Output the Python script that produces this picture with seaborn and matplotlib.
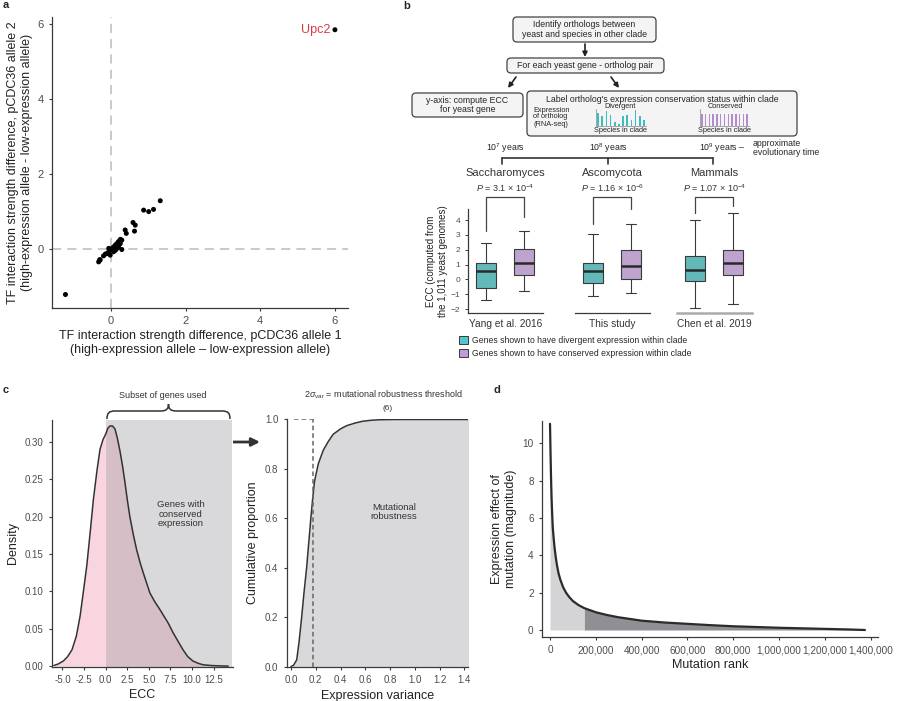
import numpy as np
import pandas as pd
import matplotlib
matplotlib.use("Agg")
import matplotlib.pyplot as plt
import seaborn as sns
from matplotlib.patches import FancyBboxPatch, Patch, PathPatch
from matplotlib.path import Path
from matplotlib.ticker import FuncFormatter

sns.set_style("ticks")
plt.rcParams['font.family'] = ['Liberation Sans', 'DejaVu Sans']
plt.rcParams['mathtext.fontset'] = 'custom'
plt.rcParams['mathtext.rm'] = 'Liberation Sans'
plt.rcParams['mathtext.it'] = 'Liberation Sans:italic'
plt.rcParams['axes.edgecolor'] = '#3a3a3a'
plt.rcParams['axes.linewidth'] = 0.9
plt.rcParams['xtick.color'] = '#3a3a3a'
plt.rcParams['ytick.color'] = '#3a3a3a'
plt.rcParams['xtick.labelcolor'] = '#4d4d4d'
plt.rcParams['ytick.labelcolor'] = '#4d4d4d'
plt.rcParams['xtick.major.size'] = 2.5
plt.rcParams['ytick.major.size'] = 2.5
plt.rcParams['axes.labelcolor'] = '#222222'

# ---- panel a: TF interaction strength differences
allele1 = [6.0, -1.22, 1.32, 0.875, 1.01, 1.14, 0.59, 0.65, 0.63, 0.38, 0.41, 0.29, 0.2,
           0.25, 0.16, 0.12, 0.07, 0.03, -0.02, -0.06, -0.11, -0.15, -0.29, -0.33, -0.3,
           0.29, -0.02, 0.07, 0.12, 0.16, 0.2, 0.25, -0.06, 0.1, 0.05, -0.2, 0.22]
allele2 = [5.85, -1.21, 1.29, 1.04, 1.0, 1.06, 0.71, 0.64, 0.48, 0.51, 0.42, 0.24, 0.2,
           0.26, 0.15, 0.11, 0.06, 0.02, -0.03, -0.07, -0.12, -0.13, -0.29, -0.34, -0.28,
           -0.01, -0.16, -0.07, -0.03, 0.02, 0.06, 0.15, 0.02, 0.04, 0.0, -0.18, 0.12]

# ---- panel b: ECC five-number summaries (min, q1, median, q3, max)
studies = ["Yang et al. 2016", "This study", "Chen et al. 2019"]
clades = ["Saccharomyces", "Ascomycota", "Mammals"]
pvals = [r"$P$ = 3.1 × 10$^{-4}$", r"$P$ = 1.16 × 10$^{-6}$", r"$P$ = 1.07 × 10$^{-4}$"]
divergent_ecc = [[-1.42, -0.56, 0.54, 1.10, 2.48],
                 [-1.15, -0.25, 0.54, 1.10, 3.05],
                 [-1.94, -0.11, 0.61, 1.56, 4.04]]
conserved_ecc = [[-0.81, 0.29, 1.10, 2.05, 3.27],
                 [-0.93, 0.05, 0.88, 2.00, 3.72],
                 [-1.69, 0.27, 1.13, 2.00, 4.51]]
bracket_ends = [[3.27, 4.22], [3.77, 4.72], [4.45, 4.94]]
timescales = [r"10$^7$ years", r"10$^8$ years", r"10$^9$ years –"]
mini_divergent = [38, 28, 43, 33, 13, 6, 28, 33, 18, 48, 28, 18]
mini_conserved = [36] * 13

# ---- panel c: ECC density and expression variance CDF
ecc_x = [-6.0, -5.5, -4.9, -4.4, -3.9, -3.4, -2.96, -2.6, -2.19, -1.8, -1.42, -1.0, -0.65,
         -0.3, 0.0, 0.25, 0.5, 0.8, 1.08, 1.35, 1.65, 1.95, 2.23, 2.5, 2.8, 3.2, 3.58, 4.0,
         4.35, 4.75, 5.12, 5.7, 6.27, 6.8, 7.23, 7.8, 8.4, 8.96, 9.5, 10.1, 10.7, 11.27,
         12.2, 13.2, 14.2]
ecc_density = [0.001, 0.003, 0.007, 0.013, 0.022, 0.04, 0.067, 0.098, 0.134, 0.178, 0.223,
               0.262, 0.29, 0.303, 0.31, 0.318, 0.321, 0.321, 0.317, 0.305, 0.288, 0.268,
               0.246, 0.223, 0.2, 0.176, 0.156, 0.138, 0.125, 0.111, 0.098, 0.086, 0.076,
               0.066, 0.058, 0.045, 0.033, 0.022, 0.013, 0.007, 0.004, 0.002, 0.001, 0.0005,
               0.0002]
var_x = [0.0, 0.02, 0.046, 0.065, 0.086, 0.105, 0.126, 0.143, 0.16, 0.175, 0.19, 0.22,
         0.26, 0.3, 0.34, 0.4, 0.45, 0.52, 0.58, 0.65, 0.72, 0.85, 1.0, 1.2, 1.45]
var_cum = [0.0, 0.005, 0.027, 0.1, 0.2, 0.3, 0.4, 0.5, 0.6, 0.68, 0.75, 0.82, 0.875, 0.91,
           0.94, 0.962, 0.975, 0.986, 0.993, 0.997, 0.999, 1.0, 1.0, 1.0, 1.0]

# ---- panel d: ranked mutation effects
mut_rank = [0, 1500, 3000, 5000, 7000, 9500, 12000, 16000, 20000, 25000, 30000, 37000,
            45000, 57000, 70000, 85000, 100000, 125000, 150000, 200000, 250000, 300000,
            400000, 500000, 600000, 700000, 800000, 900000, 1000000, 1100000, 1200000,
            1300000, 1375000]
mut_effect = [11.05, 10.0, 9.0, 7.9, 7.0, 6.2, 5.5, 4.9, 4.4, 3.9, 3.5, 3.05, 2.7, 2.3,
              2.0, 1.75, 1.55, 1.33, 1.17, 0.95, 0.8, 0.68, 0.5, 0.4, 0.33, 0.26, 0.2,
              0.16, 0.12, 0.09, 0.06, 0.03, 0.0]

teal = '#55C6C8'
purple = '#C09CD6'
W, H = 900, 701


def px_rect(x0, y0, x1, y1):
    return [x0 / W, 1 - y1 / H, (x1 - x0) / W, (y1 - y0) / H]


def classic(ax):
    sns.despine(ax=ax)
    ax.tick_params(direction='out', width=0.8)


fig = plt.figure(figsize=(9, 7.01), dpi=100)

# ================= a =================
ax_a = fig.add_axes(px_rect(52, 17, 348, 308))
ax_a.axhline(0, color='#bbbbbb', lw=1.1, dashes=(6, 4), zorder=1)
ax_a.axvline(0, color='#bbbbbb', lw=1.1, dashes=(6, 4), zorder=1)
sns.scatterplot(x=allele1, y=allele2, color='black', s=13, edgecolor='none', ax=ax_a, zorder=3)
ax_a.set_xlim(-1.58, 6.35)
ax_a.set_ylim(-1.57, 6.19)
ax_a.set_xticks([0, 2, 4, 6])
ax_a.set_yticks([0, 2, 4, 6])
ax_a.tick_params(labelsize=8)
ax_a.text(5.88, 5.83, 'Upc2', color='#D93A45', fontsize=9, ha='right', va='center')
ax_a.set_xlabel("TF interaction strength difference, pCDC36 allele 1\n"
                "(high-expression allele – low-expression allele)", fontsize=9, labelpad=3)
ax_a.set_ylabel("TF interaction strength difference, pCDC36 allele 2\n"
                "(high-expression allele - low-expression allele)", fontsize=9, labelpad=3)
classic(ax_a)

# ================= b =================
b_spans = [(468, 543), (575, 650), (677, 752)]
for i, (x0, x1) in enumerate(b_spans):
    ax = fig.add_axes(px_rect(x0, 209, x1, 313))
    df = pd.DataFrame({'status': ['Divergent'] * 5 + ['Conserved'] * 5,
                       'ECC': divergent_ecc[i] + conserved_ecc[i]})
    sns.boxplot(data=df, x='status', y='ECC', hue='status', order=['Divergent', 'Conserved'],
                hue_order=['Divergent', 'Conserved'], palette=[teal, purple], whis=(0, 100),
                width=0.53, linewidth=0.8, linecolor='#3a3a3a', legend=False,
                medianprops=dict(color='#2a2a2a', linewidth=1.8), ax=ax)
    ax.set_xlim(-0.47, 1.5)
    ax.set_ylim(-2.27, 4.75)
    ax.set_xlabel('')
    ax.set_xticks([])
    sns.despine(ax=ax, left=(i > 0))
    if i == 0:
        ax.set_yticks(range(-2, 5))
        ax.tick_params(labelsize=6, direction='out', width=0.7, length=2)
        ax.set_ylabel("ECC (computed from\nthe 1,011 yeast genomes)", fontsize=7, labelpad=2)
    else:
        ax.set_yticks([])
        ax.set_ylabel('')
    if i == 2:
        ax.spines['bottom'].set_color('#aaaaaa')
        ax.spines['bottom'].set_linewidth(1.8)
    lb, rb = bracket_ends[i]
    ax.plot([0, 0, 1, 1], [lb, 5.58, 5.58, rb], color='#444444', lw=0.9, clip_on=False)

# overlay in pixel coordinates for annotations
ov = fig.add_axes([0, 0, 1, 1])
ov.set_xlim(0, W)
ov.set_ylim(H, 0)
ov.axis('off')
ov.patch.set_alpha(0)

for i, (x0, x1) in enumerate(b_spans):
    xc = (x0 + x1) / 2
    ov.text(xc, 173, clades[i], fontsize=8, ha='center', va='center', color='#333333')
    ov.text(xc, 188, pvals[i], fontsize=6.5, ha='center', va='center', color='#333333')
    ov.text(xc, 324, studies[i], fontsize=7.3, ha='center', va='center', color='#333333')


def box(x0, y0, x1, y1):
    ov.add_patch(FancyBboxPatch((x0, y0), x1 - x0, y1 - y0,
                                boxstyle="round,pad=0,rounding_size=4",
                                fc='#f4f4f4', ec='#444444', lw=0.9))


box(513, 17, 656, 42)
ov.text(584.5, 29.5, "Identify orthologs between\nyeast and species in other clade",
        fontsize=6.3, ha='center', va='center', linespacing=1.1)
box(507, 58, 664, 73)
ov.text(585.5, 65.5, "For each yeast gene - ortholog pair", fontsize=6.3, ha='center', va='center')
box(412, 93, 523, 117)
ov.text(467.5, 105, "y-axis: compute ECC\nfor yeast gene", fontsize=6.3, ha='center',
        va='center', linespacing=1.1)
box(527, 91, 797, 136)
ov.text(662, 99, "Label ortholog's expression conservation status within clade",
        fontsize=6.3, ha='center', va='center')
ov.text(533, 117, "Expression\nof ortholog\n(RNA-seq)", fontsize=5.3, ha='left',
        va='center', linespacing=1.0)
ov.text(620, 106, "Divergent", fontsize=5.3, ha='center', va='center')
ov.text(620, 130, "Species in clade", fontsize=5.3, ha='center', va='center')
ov.text(725, 106, "Conserved", fontsize=5.3, ha='center', va='center')
ov.text(725, 130, "Species in clade", fontsize=5.3, ha='center', va='center')

for vals, color, span in [(mini_divergent, '#3fbcc0', (596, 646)),
                          (mini_conserved, '#b48ccc', (700, 749))]:
    mini = fig.add_axes(px_rect(span[0], 109, span[1], 126))
    sns.barplot(x=list(range(len(vals))), y=vals, color=color, width=0.4, lw=0,
                saturation=1, ax=mini)
    mini.set_ylim(0, 50)
    mini.set_xlabel('')
    mini.set_xticks([])
    mini.set_yticks([])
    mini.patch.set_alpha(0)
    sns.despine(ax=mini)
    for s in ['left', 'bottom']:
        mini.spines[s].set_color('#999999')
        mini.spines[s].set_linewidth(0.6)

arrow_kw = dict(arrowstyle='-|>', color='#222222', lw=1.2, mutation_scale=7, shrinkA=0, shrinkB=0)
ov.annotate('', xy=(585, 57), xytext=(585, 44), arrowprops=arrow_kw)
ov.annotate('', xy=(508, 88), xytext=(516, 77), arrowprops=arrow_kw)
ov.annotate('', xy=(619, 88), xytext=(611, 77), arrowprops=arrow_kw)

ov.plot([502, 713], [158, 158], color='#333333', lw=1.2)
for tx in [502, 608, 713]:
    ov.plot([tx, tx], [158, 164], color='#333333', lw=1.2)
ov.text(505, 148, timescales[0], fontsize=6.3, ha='center', va='center')
ov.text(608, 148, timescales[1], fontsize=6.3, ha='center', va='center')
ov.text(722, 148, timescales[2], fontsize=6.3, ha='center', va='center')
ov.text(753, 148, "approximate\nevolutionary time", fontsize=6.3, ha='left', va='center',
        linespacing=1.0)

handles = [Patch(fc=teal, ec='#3a3a3a', lw=0.7), Patch(fc=purple, ec='#3a3a3a', lw=0.7)]
ov.legend(handles, ["Genes shown to have divergent expression within clade",
                    "Genes shown to have conserved expression within clade"],
          loc='upper left', bbox_to_anchor=(459 / W, 1 - 336 / H), bbox_transform=fig.transFigure,
          frameon=False, fontsize=6.2, handlelength=1.0, handleheight=1.0, handletextpad=0.5,
          labelspacing=0.45, borderpad=0, borderaxespad=0)

# ================= c (left) =================
ax_c1 = fig.add_axes(px_rect(51.7, 420, 233, 667))
ax_c1.axvspan(0, 14.65, color='#d9d9db', lw=0, zorder=0)
ex = np.array(ecc_x)
ed = np.array(ecc_density)
ax_c1.fill_between(ex[ex <= 0], ed[ex <= 0], color='#f9d6df', lw=0, zorder=1)
ax_c1.fill_between(ex[ex >= 0], ed[ex >= 0], color='#d6bec6', lw=0, zorder=1)
sns.lineplot(x=ecc_x, y=ecc_density, color='#333333', lw=1.1, ax=ax_c1, zorder=2)
ax_c1.set_xlim(-6.25, 14.75)
ax_c1.set_ylim(-0.001, 0.329)
ax_c1.set_xticks([-5, -2.5, 0, 2.5, 5, 7.5, 10, 12.5])
ax_c1.set_yticks([0, 0.05, 0.10, 0.15, 0.20, 0.25, 0.30])
ax_c1.yaxis.set_major_formatter(FuncFormatter(lambda v, p: f"{v:.2f}"))
ax_c1.xaxis.set_major_formatter(FuncFormatter(lambda v, p: f"{v:.1f}"))
ax_c1.tick_params(labelsize=7)
ax_c1.set_xlabel("ECC", fontsize=9, labelpad=3)
ax_c1.set_ylabel("Density", fontsize=9, labelpad=4)
classic(ax_c1)
ax_c1.text(8.68, 0.203, "Genes with\nconserved\nexpression", fontsize=6.8, ha='center',
           va='center', color='#333333', linespacing=1.05)

# ================= c (right) =================
ax_c2 = fig.add_axes(px_rect(286.7, 419, 468, 667))
ax_c2.fill_between(var_x, var_cum, color='#d9d9db', lw=0, zorder=0)
sns.lineplot(x=var_x, y=var_cum, color='#333333', lw=1.1, ax=ax_c2, zorder=2)
ax_c2.plot([0.175, 0.175], [0, 1.0], color='#666666', lw=1.1, ls=(0, (3, 2)), zorder=3)
ax_c2.plot([0.02, 0.175], [1.0, 1.0], color='#666666', lw=1.1, ls=(0, (3, 2)), zorder=3)
ax_c2.set_xlim(-0.035, 1.43)
ax_c2.set_ylim(-0.002, 1.002)
ax_c2.set_xticks(np.arange(0, 1.41, 0.2))
ax_c2.set_yticks(np.arange(0, 1.01, 0.2))
ax_c2.xaxis.set_major_formatter(FuncFormatter(lambda v, p: f"{v:.1f}"))
ax_c2.yaxis.set_major_formatter(FuncFormatter(lambda v, p: f"{v:.1f}"))
ax_c2.tick_params(labelsize=7)
ax_c2.set_xlabel("Expression variance", fontsize=9, labelpad=3)
ax_c2.set_ylabel("Cumulative proportion", fontsize=9, labelpad=4)
classic(ax_c2)
ax_c2.text(0.83, 0.625, "Mutational\nrobustness", fontsize=6.8, ha='center', va='center',
           color='#333333', linespacing=1.05)

# brace + arrow + texts for c
ov.text(163, 395, "Subset of genes used", fontsize=6.5, ha='center', va='center', color='#333333')
xa, xb, yb, yh, yt = 107, 230, 419, 411, 404
xm = (xa + xb) / 2
verts = [(xa, yb), (xa, yh + 2), (xa + 2, yh), (xa + 8, yh), (xm - 8, yh),
         (xm - 2, yh), (xm, yh - 2), (xm, yt), (xm, yh - 2), (xm + 2, yh), (xm + 8, yh),
         (xb - 8, yh), (xb - 2, yh), (xb, yh + 2), (xb, yb)]
codes = [Path.MOVETO, Path.CURVE4, Path.CURVE4, Path.CURVE4, Path.LINETO,
         Path.CURVE4, Path.CURVE4, Path.CURVE4, Path.CURVE4, Path.CURVE4, Path.CURVE4,
         Path.LINETO, Path.CURVE4, Path.CURVE4, Path.CURVE4]
ov.add_patch(PathPatch(Path(verts, codes), fc='none', ec='#333333', lw=1.1))
ov.annotate('', xy=(260, 442), xytext=(212, 442),
            arrowprops=dict(arrowstyle='-|>', color='#333333', lw=2, mutation_scale=12,
                            shrinkA=0, shrinkB=0))
ov.text(383, 395, r"2$\sigma_{\rm var}$ = mutational robustness threshold", fontsize=6.5,
        ha='center', va='center', color='#333333')
ov.text(388, 409, "(6)", fontsize=6, ha='center', va='center', color='#333333')

# ================= d =================
ax_d = fig.add_axes(px_rect(542, 421, 878, 637))
mr = np.array(mut_rank)
me = np.array(mut_effect)
ax_d.fill_between(mr[mr <= 150000], me[mr <= 150000], color='#d4d4d6', lw=0, zorder=0)
ax_d.fill_between(mr[mr >= 150000], me[mr >= 150000], color='#8f8f94', lw=0, zorder=0)
sns.lineplot(x=mut_rank, y=mut_effect, color='#2b2b2b', lw=1.6, ax=ax_d, zorder=2)
ax_d.set_xlim(-35000, 1.432e6)
ax_d.set_ylim(-0.375, 11.2)
ax_d.set_xticks(np.arange(0, 1400001, 200000))
ax_d.set_yticks([0, 2, 4, 6, 8, 10])
ax_d.xaxis.set_major_formatter(FuncFormatter(lambda v, p: f"{int(v):,}"))
ax_d.tick_params(labelsize=7.2)
ax_d.set_xlabel("Mutation rank", fontsize=9, labelpad=3)
ax_d.set_ylabel("Expression effect of\nmutation (magnitude)", fontsize=9, labelpad=4)
classic(ax_d)
ov.text(711, 454, r"$y$ = $x^{-k}$ | $k$ = 2.252 ± 0.002 | $p$ = 2.40 × 10$^{-283}$",
        fontsize=8.3, ha='center', va='center', color='#222222')

# panel letters
for lab, (x, y) in {'a': (3, 5), 'b': (403, 6), 'c': (3, 390), 'd': (493, 390)}.items():
    ov.text(x, y, lab, fontsize=8, fontweight='bold', ha='left', va='center')

fig.savefig("out.png", dpi=100)
